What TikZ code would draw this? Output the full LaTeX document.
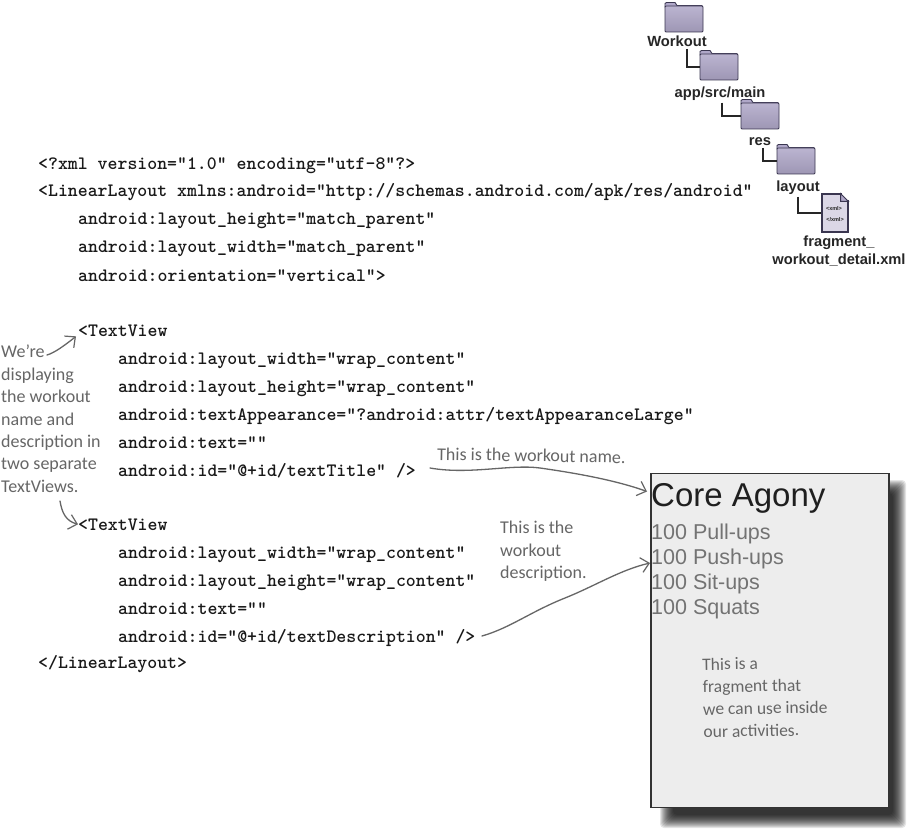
\documentclass[tikz,border=0pt]{standalone}
\usepackage{fontspec}
\usetikzlibrary{arrows.meta,calc}
\setmainfont{Liberation Sans}
\newfontfamily\handfont{Carlito}
\definecolor{handgray}{HTML}{666666}
\definecolor{folderedge}{HTML}{3A3650}
\definecolor{folderfill}{HTML}{AFA7C8}
\tikzset{
  x=1pt,y=-1pt,
  codeline/.style={anchor=base west,inner sep=0pt,font=\ttfamily\bfseries\fontsize{18.9}{22}\selectfont\addfontfeature{FakeBold=0.5},text=black!90},
  treelabel/.style={anchor=base,inner sep=0pt,font=\bfseries\fontsize{14.7}{17}\selectfont,text=black!85},
  treeline/.style={draw=black!85,line width=1.7pt,line join=miter},
  hand/.style={anchor=north west,inner sep=0pt,align=left,text=handgray,font=\handfont\fontsize{18}{22.4}\selectfont},
  handarrow/.style={draw=handgray,line width=1.3pt,line cap=round,-{Straight Barb[length=8pt,width=15pt,line width=1.2pt]}},
  screentitle/.style={anchor=base west,inner sep=0pt,text=black!88,font=\fontsize{33}{38}\selectfont},
  screenline/.style={anchor=base west,inner sep=0pt,text=black!55,font=\fontsize{21.5}{25}\selectfont},
  folderpic/.pic={
    \path[draw=folderedge,line width=.9pt,fill=folderfill] (-19,-12) -- (-19,-15.5) -- (-17.5,-16.5) -- (-9,-16.5) -- (-7,-13.5) -- (18,-13.5) -- (18,-5) -- cycle;
    \node[draw=folderedge,line width=.9pt,top color=folderfill!85!white,bottom color=folderfill!90!black,minimum width=38pt,minimum height=26pt,inner sep=0pt,rounded corners=1pt] (-body) at (0,0) {};
  }
}
\begin{document}
\begin{tikzpicture}
\useasboundingbox (0,0) rectangle (914,832);
\fill[white] (0,0) rectangle (914,832);

% folder tree
\pic (f1) at (684,19) {folderpic};
\pic (f2) at (719,67) {folderpic};
\pic (f3) at (760,116) {folderpic};
\pic (f4) at (796,161) {folderpic};
\node[treelabel] (l1) at (677,46.5) {Workout};
\node[treelabel] (l2) at (720,97.5) {app/src/main};
\node[treelabel] (l3) at (760,145.5) {res};
\node[treelabel] (l4) at (798,191.5) {layout};
\node[treelabel,align=center,anchor=north] (l5) at (839,236) {fragment\_\\[1pt]workout\_detail.xml};

\node[draw=folderedge,line width=1.1pt,fill=folderfill!45!white,minimum width=26pt,minimum height=38pt,inner sep=0pt] (doc) at (835,213) {};
\fill[white] ($(doc.north east)+(-7,-1)$) rectangle ($(doc.north east)+(1,7)$);
\draw[folderedge,line width=.9pt,fill=folderfill] ($(doc.north east)+(-8,0)$) -- ($(doc.north east)+(0,8)$) -- ($(doc.north east)+(-8,8)$) -- cycle;
\node[inner sep=0pt,font=\bfseries\fontsize{5.5}{6}\selectfont,text=black!85] (docopen) at (834,209) {<xml>};
\node[inner sep=0pt,font=\bfseries\fontsize{5.5}{6}\selectfont,text=black!85] (docclose) at (835,220) {</xml>};

\draw[treeline] ([xshift=10pt]l1.south) ++(0,2) |- (f2-body.west);
\draw[treeline] ([xshift=2pt]l2.south) ++(0,2) |- (f3-body.west);
\draw[treeline] ([xshift=3pt]l3.south) ++(0,2) |- (f4-body.west);
\draw[treeline] (l4.south) ++(0,2) |- (doc.west);

% code
\node[codeline] (c1) at (38,170) {<?xml version="1.0" encoding="utf-8"?>};
\node[codeline] (c2) at (38,197) {<LinearLayout xmlns:android="http://schemas.android.com/apk/res/android"};
\node[codeline] (c3) at (78,225) {android:layout\_height="match\_parent"};
\node[codeline] (c4) at (78,253) {android:layout\_width="match\_parent"};
\node[codeline] (c5) at (78,281) {android:orientation="vertical">};
\node[codeline] (c6) at (78,336) {<TextView};
\node[codeline] (c7) at (118,364) {android:layout\_width="wrap\_content"};
\node[codeline] (c8) at (118,392) {android:layout\_height="wrap\_content"};
\node[codeline] (c9) at (118,420) {android:textAppearance="?android:attr/textAppearanceLarge"};
\node[codeline] (c10) at (118,448) {android:text=""};
\node[codeline] (c11) at (118,476) {android:id="@+id/textTitle" />};
\node[codeline] (c12) at (78,530) {<TextView};
\node[codeline] (c13) at (118,558) {android:layout\_width="wrap\_content"};
\node[codeline] (c14) at (118,586) {android:layout\_height="wrap\_content"};
\node[codeline] (c15) at (118,614) {android:text=""};
\node[codeline] (c16) at (118,642) {android:id="@+id/textDescription" />};
\node[codeline] (c17) at (38,668) {</LinearLayout>};

% screen with shadow
\foreach \i in {0,...,13}
  \fill[black,opacity=.1,rounded corners=4pt] (660+\i,480+\i) rectangle (906-\i,828-\i);
\node[draw=black!80,line width=1.8pt,fill=black!7,anchor=north west,minimum width=238pt,minimum height=334pt,inner sep=0pt] (screen) at (650,472.5) {};
\node[screentitle] (title) at (651,506.5) {Core Agony};
\node[screenline] (s1) at (651,539) {100 Pull-ups};
\node[screenline] (s2) at (651,564) {100 Push-ups};
\node[screenline] (s3) at (651,589) {100 Sit-ups};
\node[screenline] (s4) at (651,614) {100 Squats};

% handwritten notes
\node[hand] (n1) at (1,345) {We’re\\displaying\\the workout\\name and\\description in\\two separate\\TextViews.};
\node[hand,rotate=-1,anchor=base west] (n2) at (437,460) {This is the workout name.};
\node[hand] (n3) at (500,521) {This is the\\workout\\description.};
\node[hand,rotate=1,font=\handfont\fontsize{17.5}{22.4}\selectfont] (n4) at (702,658) {This is a\\fragment that\\we can use inside\\our activities.};

% hand arrows
\coordinate (a1s) at (47,355);
\coordinate (a2s) at (60,501);
\coordinate (a3s) at (430,468);
\coordinate (a4s) at (482,636);
\draw[handarrow] (a1s) .. controls (54,353) and (64,346) .. ([xshift=-2pt]c6.south west);
\draw[handarrow] (a2s) .. controls (62,513) and (66,521) .. (c12.west);
\draw[handarrow] (a3s) .. controls (470,475) and (510,464) .. (540,468) .. controls (575,473) and (615,480) .. ([shift={(-3,-15)}]screen.west |- title.base);
\draw[handarrow] (a4s) .. controls (510,628) and (530,612) .. (565,598) .. controls (595,586) and (620,570) .. ([yshift=1pt]screen.west |- s2.base);
\end{tikzpicture}
\end{document}
